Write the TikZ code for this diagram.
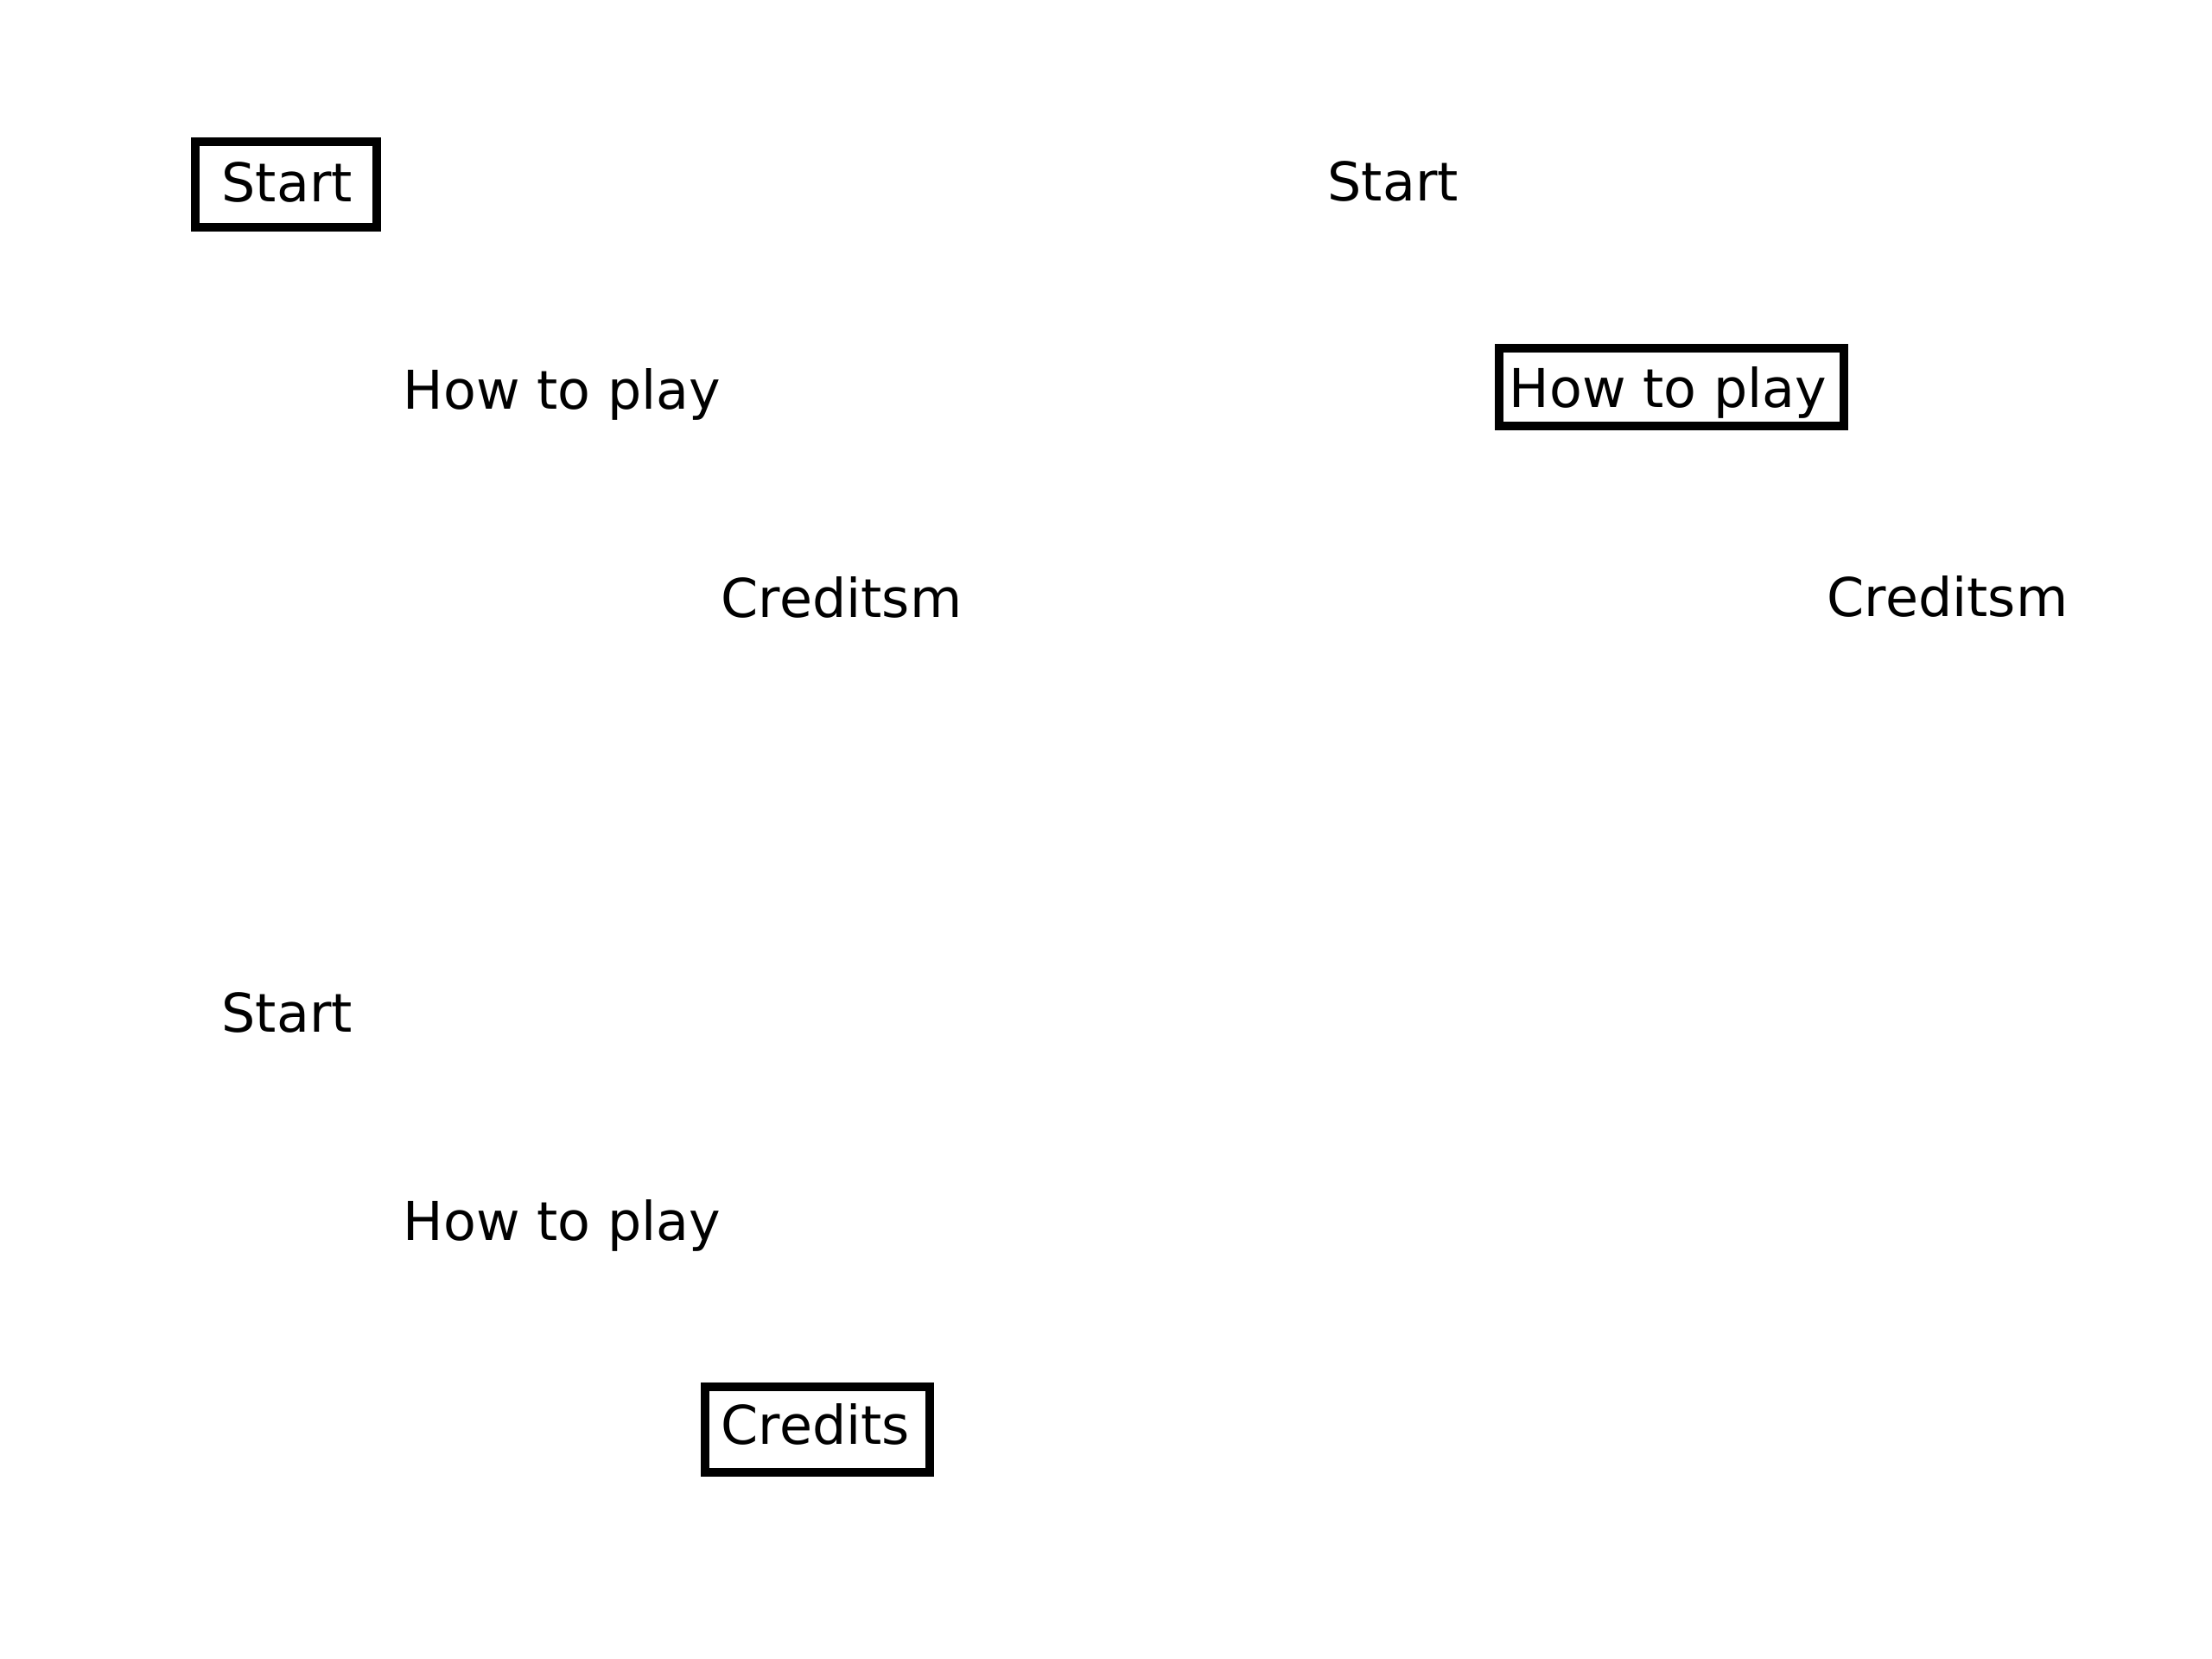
\documentclass[tikz,border=0pt]{standalone}
\usepackage{fontspec}
\setmainfont{DejaVu Sans}

\begin{document}
\begin{tikzpicture}[every node/.style={anchor=base west, inner sep=0pt, font=\fontsize{17.6}{21}\selectfont},
  selbox/.style={draw, line width=0.1cm}]
\useasboundingbox (0,0) rectangle (25.6,-19.2);

% menu 1: Start selected
\node (startA) at (2.56,-2.34) {Start};
\node (howA) at (4.66,-4.74) {How to play};
\node (credA) at (8.34,-7.14) {Creditsm};
\draw[selbox] (2.26,-1.64) rectangle (4.36,-2.63);

% menu 2: How to play selected
\node (startB) at (15.36,-2.33) {Start};
\node (howB) at (17.46,-4.72) {How to play};
\node (credB) at (21.14,-7.13) {Creditsm};
\draw[selbox] (17.35,-4.03) rectangle (21.34,-4.93);

% menu 3: Credits selected
\node (startC) at (2.56,-11.94) {Start};
\node (howC) at (4.66,-14.35) {How to play};
\node (credC) at (8.34,-16.71) {Credits};
\draw[selbox] (8.16,-16.05) rectangle (10.76,-17.04);
\end{tikzpicture}
\end{document}
